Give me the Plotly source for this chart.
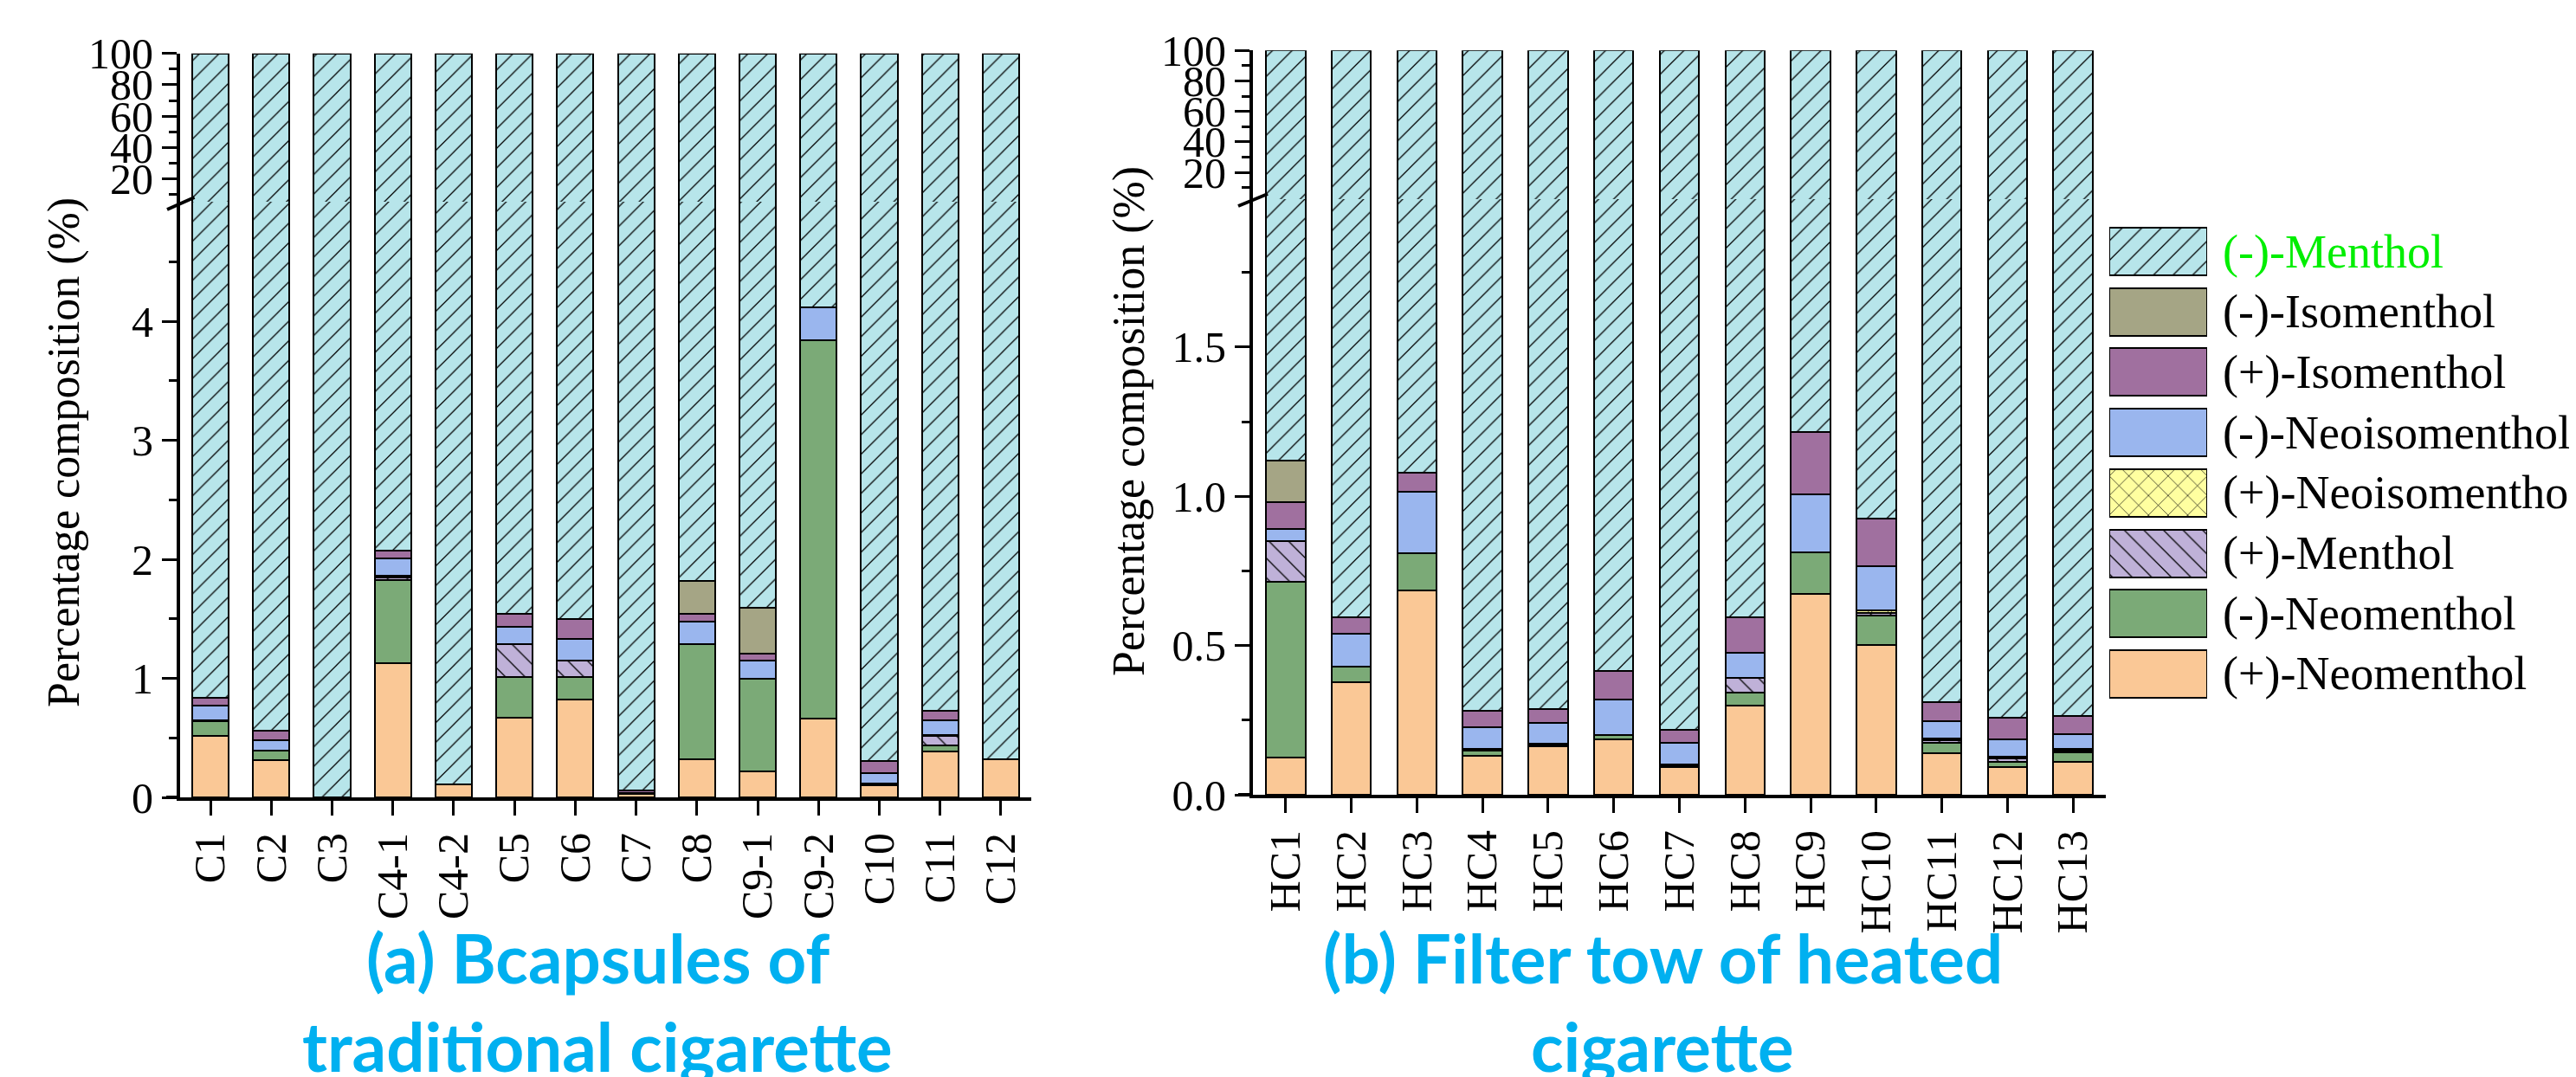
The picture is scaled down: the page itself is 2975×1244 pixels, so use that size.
import plotly.graph_objects as go

# ---------------- data ----------------
cats_a = ["C1", "C2", "C3", "C4-1", "C4-2", "C5", "C6", "C7", "C8", "C9-1", "C9-2", "C10", "C11", "C12"]
cats_b = ["HC1", "HC2", "HC3", "HC4", "HC5", "HC6", "HC7", "HC8", "HC9", "HC10", "HC11", "HC12", "HC13"]

# stacking order, bottom to top; (-)-Menthol is the remainder up to 100 %
series_names = ["(+)-Neomenthol", "(-)-Neomenthol", "(+)-Menthol", "(+)-Neoisomenthol",
                "(-)-Neoisomenthol", "(+)-Isomenthol", "(-)-Isomenthol", "(-)-Menthol"]
legend_names = ["(-)-Menthol", "(-)-Isomenthol", "(+)-Isomenthol", "(-)-Neoisomenthol",
                "(+)-Neoisomenthol", "(+)-Menthol", "(-)-Neomenthol", "(+)-Neomenthol"]

a_pos_neomenthol = [0.52, 0.31, 0.0, 1.125, 0.107, 0.67, 0.82, 0.03, 0.32, 0.22, 0.66, 0.10, 0.384, 0.32]
a_neg_neomenthol = [0.12, 0.08, 0.0, 0.70, 0.0, 0.34, 0.19, 0.0, 0.97, 0.78, 3.18, 0.02, 0.056, 0.0]
a_pos_menthol = [0.0, 0.0, 0.0, 0.02, 0.0, 0.28, 0.14, 0.0, 0.0, 0.0, 0.0, 0.0, 0.074, 0.0]
a_pos_neoisomenthol = [0.01, 0.005, 0.0, 0.015, 0.0, 0.0, 0.0, 0.0, 0.0, 0.0, 0.0, 0.0, 0.01, 0.0]
a_neg_neoisomenthol = [0.12, 0.085, 0.0, 0.145, 0.0, 0.14, 0.18, 0.01, 0.19, 0.15, 0.277, 0.085, 0.12, 0.0]
a_pos_isomenthol = [0.07, 0.08, 0.0, 0.07, 0.0, 0.11, 0.17, 0.02, 0.06, 0.055, 0.0, 0.10, 0.086, 0.0]
a_neg_isomenthol = [0.0, 0.0, 0.0, 0.0, 0.0, 0.0, 0.0, 0.0, 0.28, 0.39, 0.0, 0.0, 0.0, 0.0]

b_pos_neomenthol = [0.125, 0.378, 0.686, 0.132, 0.162, 0.186, 0.093, 0.298, 0.673, 0.503, 0.138, 0.093, 0.110]
b_neg_neomenthol = [0.59, 0.052, 0.122, 0.015, 0.006, 0.013, 0.006, 0.045, 0.138, 0.097, 0.037, 0.016, 0.031]
b_pos_menthol = [0.135, 0.0, 0.0, 0.0, 0.0, 0.0, 0.0, 0.05, 0.0, 0.008, 0.008, 0.014, 0.007]
b_pos_neoisomenthol = [0.0, 0.0, 0.0, 0.008, 0.004, 0.0, 0.003, 0.0, 0.0, 0.009, 0.007, 0.005, 0.006]
b_neg_neoisomenthol = [0.04, 0.11, 0.208, 0.07, 0.07, 0.12, 0.073, 0.082, 0.195, 0.149, 0.058, 0.058, 0.049]
b_pos_isomenthol = [0.09, 0.054, 0.063, 0.055, 0.045, 0.095, 0.044, 0.12, 0.209, 0.159, 0.061, 0.073, 0.061]
b_neg_isomenthol = [0.14, 0.0, 0.0, 0.0, 0.0, 0.0, 0.0, 0.0, 0.0, 0.0, 0.0, 0.0, 0.0]

# ---------------- styles ----------------
styles = {
    "(-)-Menthol":       dict(color="#B7E5EA", shape="/",  size=16, sol=0.08),
    "(-)-Isomenthol":    dict(color="#A5A585", shape="",   size=8,  sol=0.2),
    "(+)-Isomenthol":    dict(color="#A0709F", shape="",   size=8,  sol=0.2),
    "(-)-Neoisomenthol": dict(color="#9AB6EE", shape="",   size=8,  sol=0.2),
    "(+)-Neoisomenthol": dict(color="#FFFFA0", shape="x",  size=16, sol=0.08),
    "(+)-Menthol":       dict(color="#BFB1D8", shape="\\", size=16, sol=0.08),
    "(-)-Neomenthol":    dict(color="#7BAA77", shape="",   size=8,  sol=0.2),
    "(+)-Neomenthol":    dict(color="#FAC896", shape="",   size=8,  sol=0.2),
}

W, H = 2975, 1244          # target picture size
OFF = 8                    # page body margin
FW, FH = W - OFF, H - OFF  # figure size
SERIF = "Liberation Serif"


def px(xp):
    return (xp - OFF) / FW


def py(yp):
    return 1 - (yp - OFF) / FH


def marker_for(name):
    st = styles[name]
    return dict(color=st["color"], line=dict(color="black", width=2),
                pattern=dict(shape=st["shape"], fgcolor="black", bgcolor=st["color"],
                             size=st["size"], solidity=st["sol"], fillmode="replace"))


fig = go.Figure()


def add_panel(cats, comps, xa, ya_lo, ya_hi):
    minor_sum = [round(sum(v), 3) for v in zip(*comps)]
    menthol = [round(100 - s, 3) for s in minor_sum]
    values = comps + [menthol]
    # lower (zoomed) segment: full stack
    for name, vals in zip(series_names, values):
        shown = [v if v > 0 else None for v in vals]
        fig.add_trace(go.Bar(x=cats, y=shown, xaxis=xa, yaxis=ya_lo, width=0.6, name=name,
                             marker=marker_for(name), showlegend=False))
    # upper segment: only (-)-Menthol is visible there, drawn from its stacked base
    fig.add_trace(go.Bar(x=cats, y=menthol, base=minor_sum, xaxis=xa, yaxis=ya_hi, width=0.6,
                         name="(-)-Menthol", marker=marker_for("(-)-Menthol"), showlegend=False))


add_panel(cats_a, [a_pos_neomenthol, a_neg_neomenthol, a_pos_menthol, a_pos_neoisomenthol,
                   a_neg_neoisomenthol, a_pos_isomenthol, a_neg_isomenthol], "x", "y", "y2")
add_panel(cats_b, [b_pos_neomenthol, b_neg_neomenthol, b_pos_menthol, b_pos_neoisomenthol,
                   b_neg_neoisomenthol, b_pos_isomenthol, b_neg_isomenthol], "x2", "y3", "y4")

# legend swatches as a small bar chart
for name in legend_names:
    fig.add_trace(go.Bar(x=[1], y=[name], orientation="h", xaxis="x3", yaxis="y5", width=0.79,
                         marker=marker_for(name), showlegend=False, hoverinfo="skip"))

tickfont = dict(family=SERIF, size=50, color="black")
axis_common = dict(showline=True, linewidth=4, linecolor="black", ticks="outside", ticklen=17,
                   tickwidth=3, tickcolor="black", showgrid=False, zeroline=False,
                   tickfont=tickfont, automargin=False)
minor_common = dict(ticks="outside", ticklen=9, tickwidth=3, tickcolor="black", showgrid=False)

fig.update_layout(
    width=FW, height=FH, margin=dict(l=0, r=0, t=0, b=0, autoexpand=False),
    paper_bgcolor="white", plot_bgcolor="rgba(0,0,0,0)",
    barmode="stack", bargap=0.4,
    xaxis=dict(domain=[px(208), px(1191)], anchor="y", type="category", range=[-0.5, 13.5],
               tickangle=-90, **axis_common),
    # lower segment reaches a few pixels under the upper one so no seam shows at the break
    yaxis=dict(domain=[py(921), py(225)], anchor="x", range=[0, 5.062],
               tickvals=[0, 1, 2, 3, 4],
               minor=dict(tickvals=[0.5, 1.5, 2.5, 3.5, 4.5], **minor_common),
               **axis_common),
    yaxis2=dict(domain=[py(233), py(61.7)], anchor="x", range=[5.5, 100],
                tickvals=[20, 40, 60, 80, 100],
                minor=dict(tickvals=[10, 30, 50, 70, 90], **minor_common),
                **axis_common),
    xaxis2=dict(domain=[px(1447), px(2432)], anchor="y3", type="category", range=[-0.5, 12.5],
                tickangle=-90, **axis_common),
    yaxis3=dict(domain=[py(918), py(222)], anchor="x2", range=[0, 2.019],
                tickvals=[0, 0.5, 1.0, 1.5], ticktext=["0.0", "0.5", "1.0", "1.5"],
                minor=dict(tickvals=[0.25, 0.75, 1.25, 1.75], **minor_common),
                **axis_common),
    yaxis4=dict(domain=[py(230), py(58.3)], anchor="x2", range=[2.4, 100],
                tickvals=[20, 40, 60, 80, 100],
                minor=dict(tickvals=[10, 30, 50, 70, 90], **minor_common),
                **axis_common),
    xaxis3=dict(domain=[px(2436), px(2549)], anchor="y5", range=[0, 1], visible=False,
                fixedrange=True, automargin=False),
    yaxis5=dict(domain=[py(813.4), py(255.6)], anchor="x3", type="category",
                categoryorder="array", categoryarray=legend_names, range=[7.5, -0.5],
                visible=False, fixedrange=True, automargin=False),
)

annotations = []
# y-axis titles
for xp, yp in ((74, 523), (1304, 487)):
    annotations.append(dict(x=px(xp), y=py(yp), xref="paper", yref="paper", showarrow=False,
                            text="Percentage composition (%)", textangle=-90,
                            font=dict(family=SERIF, size=52, color="black"),
                            xanchor="center", yanchor="middle"))
# legend labels
for i, name in enumerate(legend_names):
    annotations.append(dict(x=px(2565), y=py(290.5 + i * 69.7), xref="paper", yref="paper",
                            showarrow=False, text=name, xanchor="left", yanchor="middle",
                            font=dict(family=SERIF, size=54,
                                      color="#00EE00" if i == 0 else "black")))
# panel captions
caption_font = dict(family="Lato", size=78, color="#00B0F0", weight="bold")
for xp, yp, txt in ((690, 1106, "(a) Bcapsules of"), (690, 1208, "traditional cigarette"),
                    (1920, 1106, "(b) Filter tow of heated"), (1920, 1208, "cigarette")):
    annotations.append(dict(x=px(xp), y=py(yp), xref="paper", yref="paper", showarrow=False,
                            text="<b>" + txt + "</b>", xanchor="center", yanchor="middle",
                            font=caption_font))
fig.update_layout(annotations=annotations)

# axis break marks and axis-line extensions
shapes = []
for (x0, y0, x1, y1) in ((193, 242, 224.5, 228), (1430, 238, 1464, 224)):
    shapes.append(dict(type="line", xref="paper", yref="paper", x0=px(x0), y0=py(y0),
                       x1=px(x1), y1=py(y1), line=dict(color="black", width=4)))
for (x0, x1, yy) in ((192, 208, 921), (1430, 1447, 918)):
    shapes.append(dict(type="line", xref="paper", yref="paper", x0=px(x0), y0=py(yy),
                       x1=px(x1), y1=py(yy), line=dict(color="black", width=4)))
fig.update_layout(shapes=shapes)

fig.write_html("out.html")
